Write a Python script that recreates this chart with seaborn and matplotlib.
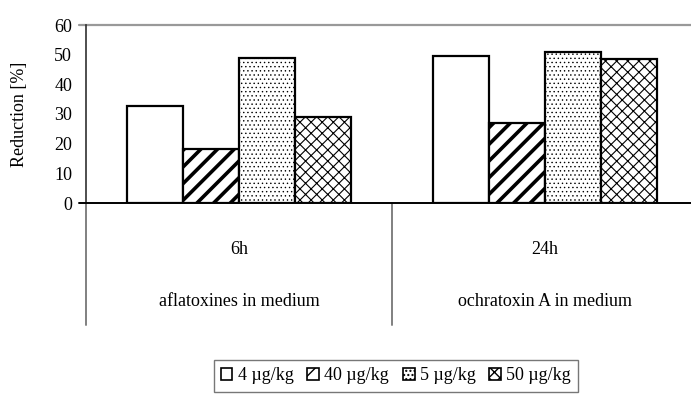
import matplotlib
matplotlib.use("Agg")
import matplotlib.pyplot as plt
import matplotlib.transforms as mtransforms
from matplotlib.patches import Patch
import seaborn as sns
import pandas as pd

# Reduction of mycotoxins by incubation time and dose
times = ["6h", "24h"]
groups = ["aflatoxines in medium", "ochratoxin A in medium"]
doses = ["4 µg/kg", "40 µg/kg", "5 µg/kg", "50 µg/kg"]
reduction_6h = [32.7, 18.1, 48.8, 29.1]
reduction_24h = [49.5, 26.9, 51.0, 48.6]
y_ticks = [0, 10, 20, 30, 40, 50, 60]

hatches = ["", "//", "....", "xxx"]
hatch_widths = [1.0, 2.6, 0.5, 0.8]

df = pd.DataFrame({
    "time": [t for t in times for _ in doses],
    "dose": doses * len(times),
    "reduction": reduction_6h + reduction_24h,
})

sns.set_theme(style="white")
plt.rcParams["font.family"] = ["Liberation Serif", "DejaVu Serif"]
plt.rcParams["hatch.color"] = "black"
plt.rcParams["text.color"] = "black"
plt.rcParams["axes.labelcolor"] = "black"
plt.rcParams["xtick.color"] = "black"
plt.rcParams["ytick.color"] = "black"

FS = 13

fig = plt.figure(figsize=(6.91, 4.03), dpi=100)
ax = fig.add_axes([86 / 691, 200 / 403, 605 / 691, 178 / 403])

sns.barplot(data=df, x="time", y="reduction", hue="dose", order=times,
            hue_order=doses, width=0.734, gap=0,
            palette=["white"] * 4, edgecolor="black", linewidth=1.6,
            legend=False, ax=ax)

for cont, h, hw in zip(ax.containers, hatches, hatch_widths):
    for bar in cont:
        bar.set_facecolor("white")
        bar.set_hatch(h)
        try:
            bar.set_hatch_linewidth(hw)
        except AttributeError:
            pass

ax.set_xlim(-0.5, -0.5 + 605 / 306)
ax.set_ylim(0, 60)
ax.set_yticks(y_ticks)
ax.set_yticklabels([str(v) for v in y_ticks], fontsize=FS)
ax.tick_params(axis="y", length=0, pad=10)
ax.tick_params(axis="x", length=0, pad=27, labelsize=FS)
ax.set_xlabel("")
ax.set_ylabel("Reduction [%]", fontsize=FS, labelpad=19)

for side in ["top", "right", "bottom"]:
    ax.spines[side].set_visible(False)
ax.spines["left"].set_color("#303030")
ax.spines["left"].set_linewidth(1.2)
ax.grid(False)

tick_ext = 7 / 605
ax.axhline(60, xmin=-tick_ext, xmax=1, color="#999999", lw=1.6, clip_on=False, zorder=0)
ax.axhline(0, xmin=-tick_ext, xmax=1, color="black", lw=1.4, clip_on=False, zorder=5)

# Category separators below the axis
trans = mtransforms.blended_transform_factory(ax.transData, ax.transAxes)
for xs in [-0.5, 0.5, 1.5]:
    ax.plot([xs, xs], [0, -122 / 178], transform=trans, color="#808080",
            lw=1.4, clip_on=False, zorder=4)

for i, g in enumerate(groups):
    ax.annotate(g, xy=(i, 0), xycoords=("data", "axes fraction"),
                xytext=(0, -71), textcoords="offset points",
                ha="center", va="center", fontsize=FS, color="black")

handles = [Patch(facecolor="white", edgecolor="black", hatch=h, lw=1.2)
           for h in hatches]
leg = fig.legend(handles, doses, loc="center", bbox_to_anchor=(396 / 691, 1 - 376 / 403),
                 ncol=4, frameon=True, fancybox=False, fontsize=FS,
                 handlelength=0.65, handleheight=0.65, handletextpad=0.3,
                 columnspacing=0.75, borderpad=0.4)
leg.get_frame().set_edgecolor("#555555")
leg.get_frame().set_linewidth(1.0)

fig.savefig("out.png", dpi=100)
